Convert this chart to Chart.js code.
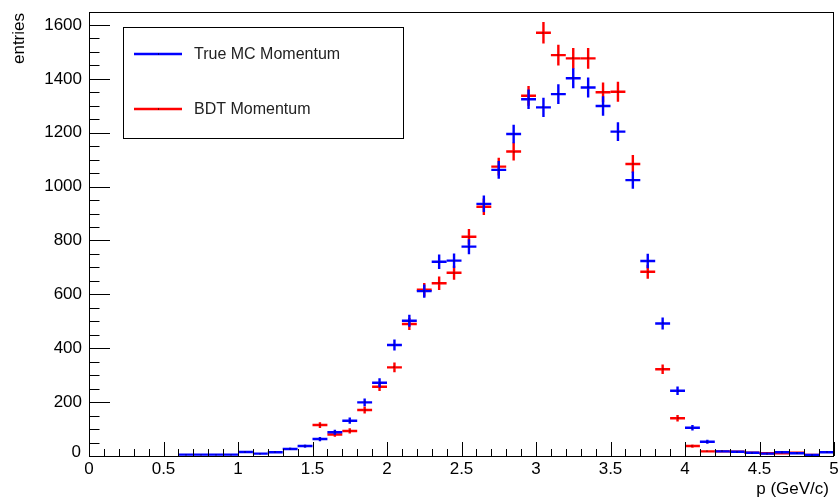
<!DOCTYPE html>
<html>
<head>
<meta charset="utf-8">
<script src="https://cdn.jsdelivr.net/npm/chart.js@4/dist/chart.umd.min.js"></script>
<style>
  html, body { margin: 0; padding: 0; background: #fff; }
  canvas { display: block; }
</style>
</head>
<body>
<canvas id="chart" width="838" height="499"></canvas>
<script>
// Momentum histograms, 0.1 GeV/c bins (bin centres)
const binCenters = [
  0.65, 0.75, 0.85, 0.95, 1.05, 1.15, 1.25, 1.35, 1.45, 1.55,
  1.65, 1.75, 1.85, 1.95, 2.05, 2.15, 2.25, 2.35, 2.45, 2.55,
  2.65, 2.75, 2.85, 2.95, 3.05, 3.15, 3.25, 3.35, 3.45, 3.55,
  3.65, 3.75, 3.85, 3.95, 4.05, 4.15, 4.25, 4.35, 4.45, 4.55,
  4.65, 4.75, 4.85, 4.95
];
const trueMC = [
  5, 5, 5, 5, 15, 9, 14, 26, 37, 63,
  88, 131, 199, 272, 412, 502, 612, 721, 725, 777,
  936, 1062, 1195, 1324, 1294, 1343, 1402, 1368, 1299, 1204,
  1024, 724, 492, 242, 105, 53, 17, 16, 12, 9,
  14, 10, 4, 14
];
const bdt = [
  null, null, null, null, null, null, null, null, null, 115,
  80, 93, 171, 257, 329, 490, 617, 641, 680, 814,
  925, 1074, 1130, 1337, 1571, 1488, 1476, 1476, 1350, 1352,
  1084, 684, 322, 140, 37, 17, 17, 16, 12, 10,
  10, 12, 4, null
];
const binWidth = 0.1;
const seriesNames = ['True MC Momentum', 'BDT Momentum'];
const seriesColors = ['#0000ff', '#ff0000'];
const xTickStep = 0.5, xMinorStep = 0.1, xMin = 0, xMax = 5;
const yTickStep = 200, yMinorStep = 50, yMin = 0, yMax = 1648;
const xTitle = 'p (GeV/c)';
const yTitle = 'entries';

const FONT = '"Liberation Sans", Arial, Helvetica, sans-serif';

function toPoints(values) {
  const pts = [];
  values.forEach((v, i) => { if (v !== null) pts.push({ x: binCenters[i], y: v }); });
  return pts;
}

// Draws each bin as a cross: horizontal bar = bin width, vertical bar = sqrt(N)
const errorBars = {
  id: 'errorBars',
  afterDatasetDraw(chart, args) {
    const ds = chart.data.datasets[args.index];
    const xs = chart.scales.x, ys = chart.scales.y;
    const ctx = chart.ctx;
    ctx.save();
    ctx.strokeStyle = ds.borderColor;
    ctx.lineWidth = 2.4;
    ctx.lineCap = 'butt';
    ds.data.forEach(p => {
      const err = Math.sqrt(p.y);
      const xl = xs.getPixelForValue(p.x - binWidth / 2);
      const xr = xs.getPixelForValue(p.x + binWidth / 2);
      const xc = xs.getPixelForValue(p.x);
      const yc = ys.getPixelForValue(p.y);
      const yt = ys.getPixelForValue(p.y + err);
      const yb = ys.getPixelForValue(Math.max(0, p.y - err));
      ctx.beginPath();
      ctx.moveTo(xl, yc); ctx.lineTo(xr, yc);
      ctx.moveTo(xc, yt); ctx.lineTo(xc, yb);
      ctx.stroke();
    });
    ctx.fillStyle = '#000';
    ds.data.forEach(p => {
      const xc = xs.getPixelForValue(p.x);
      const yc = ys.getPixelForValue(p.y);
      ctx.fillRect(Math.round(xc) - 0.5, Math.round(yc) - 0.5, 1, 1);
    });
    ctx.restore();
  }
};

// Frame, inward ticks, axis titles and legend box
const frame = {
  id: 'frame',
  afterDraw(chart) {
    const ctx = chart.ctx;
    const a = chart.chartArea;
    const xs = chart.scales.x, ys = chart.scales.y;
    ctx.save();
    ctx.strokeStyle = '#000';
    ctx.lineWidth = 1;
    ctx.strokeRect(a.left + 0.5, a.top + 0.5, a.right - a.left - 1, a.bottom - a.top);

    ctx.beginPath();
    const nx = Math.round((xMax - xMin) / xMinorStep);
    for (let k = 0; k <= nx; k++) {
      const v = xMin + k * xMinorStep;
      const px = Math.round(xs.getPixelForValue(v)) + 0.5;
      const major = k % Math.round(xTickStep / xMinorStep) === 0;
      const len = major ? 14 : 7;
      ctx.moveTo(px, a.bottom);
      ctx.lineTo(px, a.bottom - len);
    }
    const ny = Math.floor((yMax - yMin) / yMinorStep);
    for (let k = 0; k <= ny; k++) {
      const v = yMin + k * yMinorStep;
      const py = Math.round(ys.getPixelForValue(v)) + 0.5;
      const major = k % Math.round(yTickStep / yMinorStep) === 0;
      const len = major ? 21 : 10.5;
      ctx.moveTo(a.left, py);
      ctx.lineTo(a.left + len, py);
    }
    ctx.stroke();

    ctx.fillStyle = '#000';
    ctx.font = '17px ' + FONT;
    // y-axis zero label, lifted clear of the x-axis zero
    ctx.textAlign = 'right';
    ctx.textBaseline = 'middle';
    ctx.fillText('0', a.left - 8, ys.getPixelForValue(0) - 4);

    // axis titles
    ctx.textAlign = 'right';
    ctx.textBaseline = 'alphabetic';
    ctx.fillText(xTitle, 829, 494);
    ctx.save();
    ctx.translate(24, 13);
    ctx.rotate(-Math.PI / 2);
    ctx.textAlign = 'right';
    ctx.textBaseline = 'alphabetic';
    ctx.fillText(yTitle, 0, 0);
    ctx.restore();

    // legend
    const lx = 123, ly = 27, lw = 280, lh = 111;
    ctx.fillStyle = '#fff';
    ctx.fillRect(lx, ly, lw, lh);
    ctx.strokeStyle = '#000';
    ctx.strokeRect(lx + 0.5, ly + 0.5, lw, lh);
    ctx.font = '16px ' + FONT;
    ctx.textAlign = 'left';
    ctx.textBaseline = 'middle';
    const rows = [54, 109];
    chart.data.datasets.forEach((ds, i) => {
      const y = rows[i];
      ctx.strokeStyle = ds.borderColor;
      ctx.lineWidth = 2.4;
      ctx.beginPath();
      ctx.moveTo(134, y); ctx.lineTo(182, y);
      ctx.stroke();
      ctx.fillStyle = '#000';
      ctx.fillRect(158, y - 0.5, 1, 1);
      ctx.fillStyle = '#222';
      ctx.fillText(ds.label, 194, y + 1);
    });
    ctx.restore();
  }
};

new Chart(document.getElementById('chart'), {
  type: 'scatter',
  data: {
    datasets: [
      { label: seriesNames[0], data: toPoints(trueMC), borderColor: seriesColors[0],
        backgroundColor: seriesColors[0], pointRadius: 0, showLine: false },
      { label: seriesNames[1], data: toPoints(bdt), borderColor: seriesColors[1],
        backgroundColor: seriesColors[1], pointRadius: 0, showLine: false }
    ]
  },
  options: {
    responsive: false,
    animation: false,
    devicePixelRatio: 1,
    layout: { padding: { top: 12, right: 4, left: 0, bottom: 0 } },
    plugins: { legend: { display: false }, tooltip: { enabled: false } },
    scales: {
      x: {
        type: 'linear', min: xMin, max: xMax,
        grid: { display: false, drawTicks: false },
        border: { display: false },
        ticks: {
          stepSize: xTickStep, includeBounds: false, autoSkip: false, maxRotation: 0,
          padding: 3, color: '#000', font: { family: FONT, size: 17 },
          callback: v => String(Math.round(v * 10) / 10)
        },
        afterFit(s) { s.height = 43; s.paddingLeft = 0; s.paddingRight = 0; }
      },
      y: {
        type: 'linear', min: yMin, max: yMax,
        grid: { display: false, drawTicks: false },
        border: { display: false },
        ticks: {
          stepSize: yTickStep, includeBounds: false, autoSkip: false,
          padding: 7, color: '#000', font: { family: FONT, size: 17 },
          callback: v => (v === 0 ? '' : String(v))
        },
        afterFit(s) { s.width = 89; s.paddingTop = 0; s.paddingBottom = 0; }
      }
    }
  },
  plugins: [errorBars, frame]
});
</script>
</body>
</html>
